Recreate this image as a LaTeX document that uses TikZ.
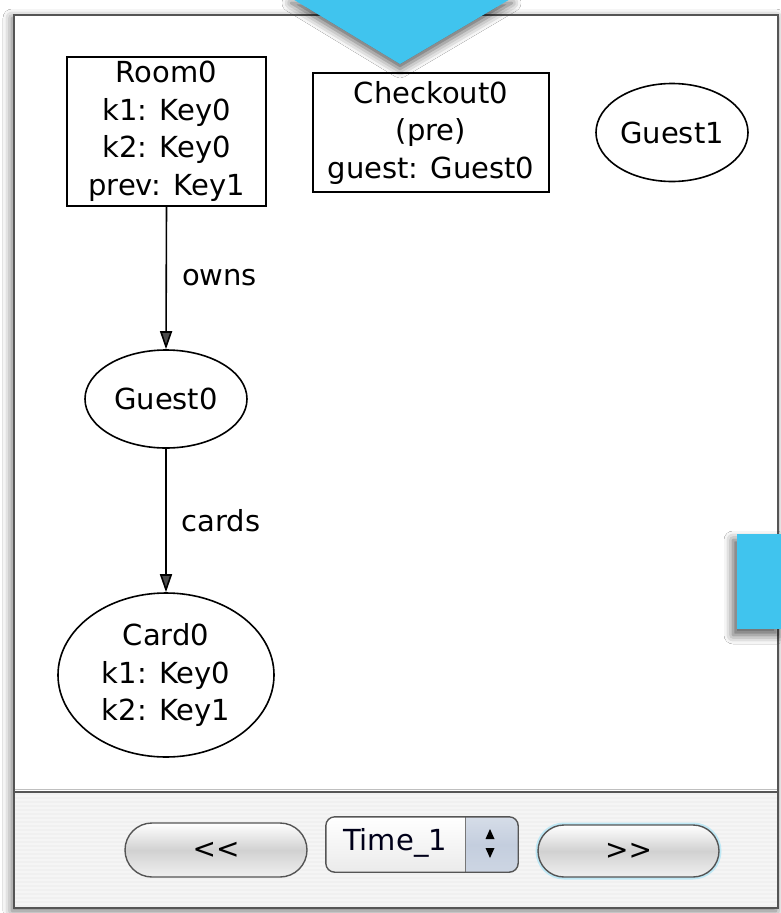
\documentclass[tikz,border=0pt]{standalone}
\usepackage{fontspec}
\setmainfont{DejaVu Sans}
\usetikzlibrary{arrows.meta,shapes.geometric,shadows.blur}

\newcommand{\objfont}{\fontsize{29}{37.5}\selectfont}
\newcommand{\btnfont}{\fontsize{28}{30}\selectfont}
\definecolor{hilite}{RGB}{64,196,238}
\definecolor{frameline}{RGB}{85,85,85}
\definecolor{steppercol}{RGB}{196,206,222}

\begin{document}
\begin{tikzpicture}[x=1pt,y=-1pt,
  objbox/.style={draw, line width=1.6pt, inner sep=0pt, font=\objfont, align=center},
  objell/.style={ellipse, draw, line width=1.6pt, inner sep=0pt, font=\objfont, align=center},
  relation/.style={-{Triangle[length=18pt,width=12pt]}, line width=1.6pt},
  rellabel/.style={font=\objfont, right, inner sep=0pt, xshift=15pt},
  pill/.style={draw=frameline, line width=1.4pt, font=\btnfont,
    top color=white, bottom color=white!94!black, middle color=white!82!black},
  stripe/.style={black!4, line width=1.3pt}
]
\useasboundingbox (0,0) rectangle (780,913);
\fill[white] (0,0) rectangle (780,913);

% window with drop shadow
\filldraw[fill=white, draw=frameline, line width=2pt,
  blur shadow={shadow xshift=-2pt, shadow yshift=-3pt, shadow blur radius=9pt, shadow opacity=60}]
  (14,15) rectangle (778,908);

% bottom toolbar
\fill[black!6] (15,792) rectangle (777,907);
\foreach \yy in {796,800,...,904} \draw[stripe] (15,\yy) -- (777,\yy);
\draw[black!25, line width=1pt] (15,789) -- (777,789);
\draw[frameline, line width=1.6pt] (15,792) -- (777,792);

% instance graph
\node[objbox, minimum width=199pt, minimum height=149pt] (room) at (166.5,131.5)
  {Room0\\k1: Key0\\k2: Key0\\prev: Key1};
\node[objbox, minimum width=236pt, minimum height=119pt] (checkout) at (431,132.5)
  {Checkout0\\(pre)\\guest: Guest0};
\node[objell, minimum width=152pt, minimum height=98pt] (guest1) at (672,132.5) {Guest1};
\node[objell, minimum width=162pt, minimum height=98pt] (guest0) at (166,399) {Guest0};
\node[objell, minimum width=216pt, minimum height=164pt] (card) at (166,675)
  {Card0\\k1: Key0\\k2: Key1};

\draw[relation] (room.south) -- (guest0.north) node[rellabel, midway] {owns};
\draw[relation] (guest0.south) -- (card.north) node[rellabel, midway] {cards};

% navigation controls
\node[pill, minimum width=182pt, minimum height=54pt, rounded corners=27pt] (back) at (216,850) {{<}{<}};

\draw[hilite!45!white, line width=5pt, opacity=0.7, rounded corners=26pt]
  (538,825) rectangle (719,877);
\node[pill, minimum width=181pt, minimum height=52pt, rounded corners=26pt] (fwd) at (628.5,851) {{>}{>}};

\node[minimum width=192pt, minimum height=55pt, inner sep=0pt] (timesel) at (422,844.5) {};
\begin{scope}
  \clip[rounded corners=9pt] (timesel.north west) rectangle (timesel.south east);
  \shade[top color=white, bottom color=white!92!black] (timesel.north west) rectangle (timesel.south east);
  \shade[top color=steppercol!70!white, bottom color=steppercol!85!white, middle color=steppercol]
    (465,817) rectangle (timesel.south east);
\end{scope}
\draw[frameline!80!white, line width=1pt] (465,817) -- (465,872);
\draw[frameline, line width=1.4pt, rounded corners=9pt] (timesel.north west) rectangle (timesel.south east);
\node[font=\objfont, inner sep=0pt, text=black!90!blue] (timelbl) at (395,843) {Time\_1};
\fill (490,829) -- (485.5,839) -- (494.5,839) -- cycle;
\fill (485.5,848) -- (494.5,848) -- (490,858) -- cycle;

% highlight markers
\fill[hilite, blur shadow={shadow xshift=0pt, shadow yshift=-5pt, shadow blur radius=9pt, shadow opacity=65}]
  (291,-2) -- (512,-2) -- (400,64) -- cycle;
\fill[hilite, blur shadow={shadow xshift=-4pt, shadow yshift=-6pt, shadow blur radius=9pt, shadow opacity=65}]
  (737,534) rectangle (782,629);
\end{tikzpicture}
\end{document}
